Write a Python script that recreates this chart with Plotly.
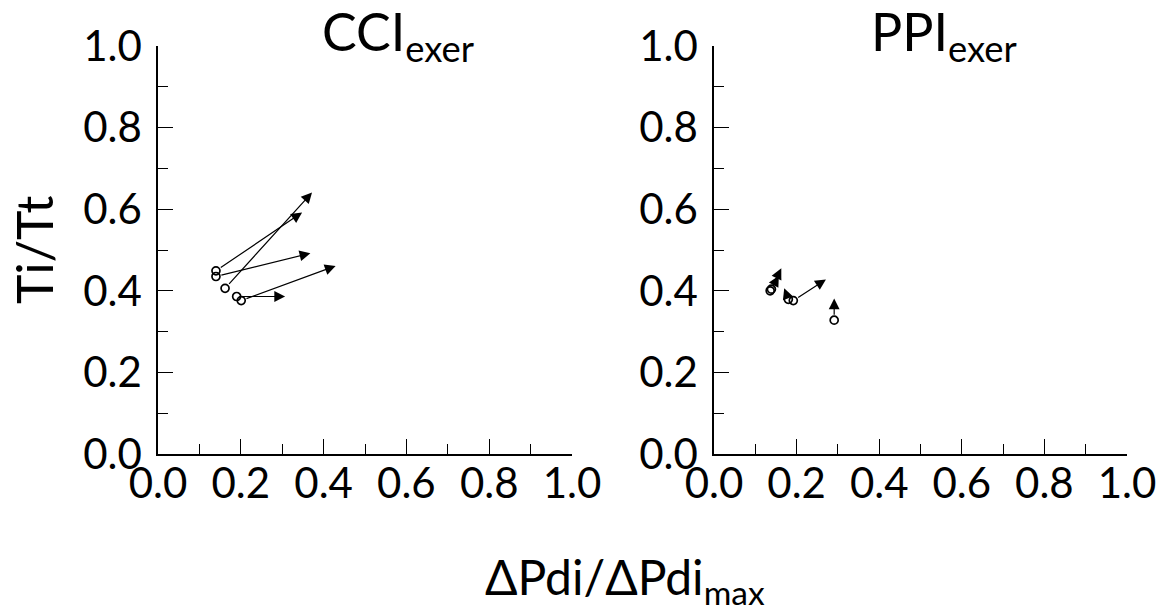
import plotly.graph_objects as go

# Ti/Tt against ΔPdi/ΔPdi_max: each subject moves from a start point (circle)
# to an end point (arrow head).
cci_start_x = [0.140, 0.140, 0.162, 0.190, 0.201]
cci_start_y = [0.449, 0.435, 0.406, 0.386, 0.376]
cci_end_x = [0.348, 0.368, 0.372, 0.307, 0.429]
cci_end_y = [0.592, 0.492, 0.641, 0.386, 0.461]

ppi_start_x = [0.136, 0.139, 0.180, 0.192, 0.291]
ppi_start_y = [0.400, 0.404, 0.379, 0.376, 0.328]
ppi_end_x = [0.163, 0.157, 0.170, 0.271, 0.291]
ppi_end_y = [0.455, 0.437, 0.406, 0.428, 0.381]

tick_vals = [0.0, 0.2, 0.4, 0.6, 0.8, 1.0]
tick_text = ["0.0", "0.2", "0.4", "0.6", "0.8", "1.0"]

panel_titles = ["CCI<sub>exer</sub>", "PPI<sub>exer</sub>"]
x_title = "ΔPdi/ΔPdi<sub>max</sub>"
y_title = "Ti/Tt"

FONT = "Lato, 'Open Sans', sans-serif"
W, H = 1161, 611

fig = go.Figure()

panels = [
    ("x", "y", cci_start_x, cci_start_y, cci_end_x, cci_end_y),
    ("x2", "y2", ppi_start_x, ppi_start_y, ppi_end_x, ppi_end_y),
]

for xa, ya, sx, sy, ex, ey in panels:
    fig.add_trace(go.Scatter(
        x=sx, y=sy, xaxis=xa, yaxis=ya, mode="markers",
        marker=dict(symbol="circle-open", size=8, color="black",
                    line=dict(width=1.7, color="black")),
        cliponaxis=False, showlegend=False, hoverinfo="skip",
    ))
    for x0, y0, x1, y1 in zip(sx, sy, ex, ey):
        fig.add_annotation(
            x=x1, y=y1, ax=x0, ay=y0, xref=xa, yref=ya, axref=xa, ayref=ya,
            text="", showarrow=True, arrowhead=2, arrowsize=1.8,
            arrowwidth=1.2, arrowcolor="black", standoff=0, startstandoff=4,
        )

axis_common = dict(
    range=[0, 1], showgrid=False, zeroline=False, automargin=False,
    showline=True, linecolor="black", linewidth=1.5,
    ticks="inside", ticklen=15, tickwidth=1.3, tickcolor="black",
    tickvals=tick_vals, ticktext=tick_text,
    tickfont=dict(family=FONT, size=42, color="black"),
    minor=dict(tickvals=[0.1, 0.3, 0.5, 0.7, 0.9], ticks="inside",
               ticklen=10, tickwidth=1.2, tickcolor="black"),
    fixedrange=True,
)

y_dom = [1 - 454 / H, 1 - 46 / H]
fig.update_layout(
    width=W, height=H,
    margin=dict(l=0, r=0, t=0, b=0, autoexpand=False),
    paper_bgcolor="white", plot_bgcolor="white",
    xaxis=dict(domain=[158 / W, 572 / W], anchor="y",
               ticklabelstandoff=-8, **axis_common),
    yaxis=dict(domain=y_dom, anchor="x",
               ticklabelstandoff=6, **axis_common),
    xaxis2=dict(domain=[714 / W, 1127 / W], anchor="y2",
                ticklabelstandoff=-8, **axis_common),
    yaxis2=dict(domain=y_dom, anchor="x2",
                ticklabelstandoff=6, **axis_common),
)

# panel titles
for title, cx in zip(panel_titles, [398, 944]):
    fig.add_annotation(
        text=title, x=cx / W, y=1 - 35 / H, xref="paper", yref="paper",
        xanchor="center", yanchor="middle", showarrow=False,
        font=dict(family=FONT, size=52, color="black"),
    )

# shared axis titles
fig.add_annotation(
    text=x_title, x=625 / W, y=1 - 580 / H, xref="paper", yref="paper",
    xanchor="center", yanchor="middle", showarrow=False,
    font=dict(family=FONT, size=48, color="black"),
)
fig.add_annotation(
    text=y_title, x=34 / W, y=1 - 250 / H, xref="paper", yref="paper",
    xanchor="center", yanchor="middle", showarrow=False, textangle=-90,
    font=dict(family=FONT, size=50, color="black"),
)

fig.write_html("out.html")
